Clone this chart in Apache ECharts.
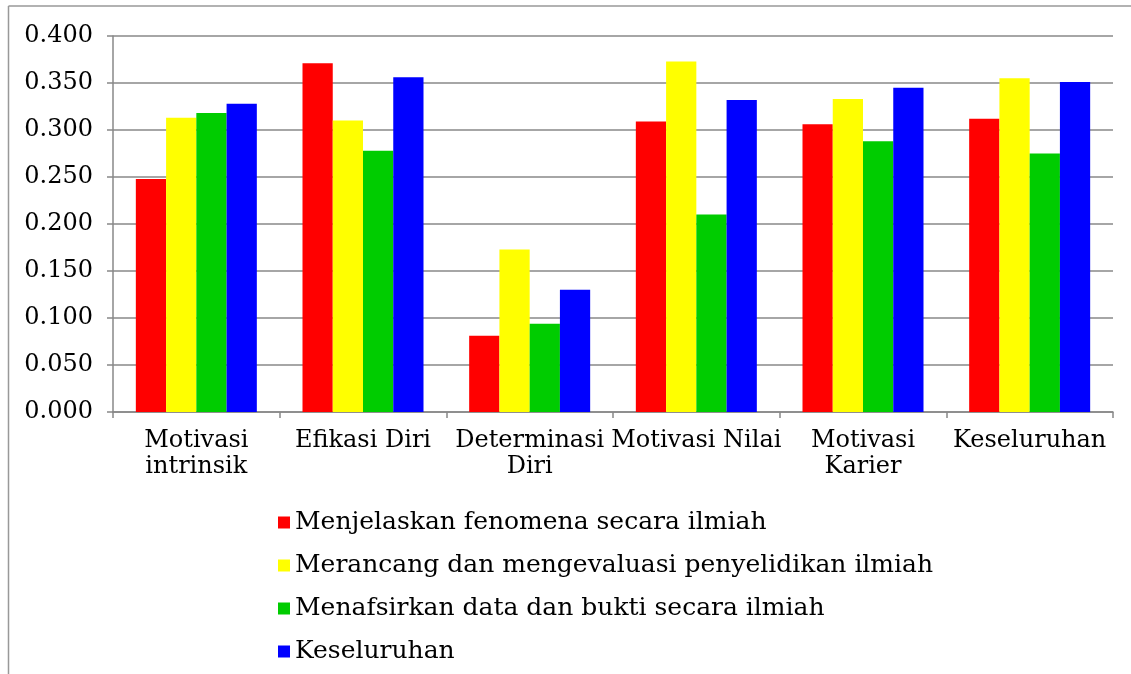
<!DOCTYPE html>
<html><head><meta charset="utf-8">
<script src="https://cdn.jsdelivr.net/npm/echarts@6/dist/echarts.min.js"></script>
<style>html,body{margin:0;padding:0;background:#fff}#c{width:1131px;height:674px}</style>
</head><body><div id="c"></div>
<script>
const categories = ['Motivasi\nintrinsik','Efikasi Diri','Determinasi\nDiri','Motivasi Nilai','Motivasi\nKarier','Keseluruhan'];
const seriesNames = ['Menjelaskan fenomena secara ilmiah','Merancang dan mengevaluasi penyelidikan ilmiah','Menafsirkan data dan bukti secara ilmiah','Keseluruhan'];
const menjelaskan = [0.248, 0.371, 0.081, 0.309, 0.306, 0.312];
const merancang = [0.313, 0.310, 0.173, 0.373, 0.333, 0.355];
const menafsirkan = [0.318, 0.278, 0.094, 0.210, 0.288, 0.275];
const keseluruhan = [0.328, 0.356, 0.130, 0.332, 0.345, 0.351];
const colors = ['#FF0000','#FFFF00','#00CC00','#0000FF'];
const FONT = 'DejaVu Serif';
const chart = echarts.init(document.getElementById('c'), null, {renderer:'canvas'});
const allData = [menjelaskan, merancang, menafsirkan, keseluruhan];
chart.setOption({
  animation:false,
  textStyle:{fontFamily:FONT},
  grid:{left:113,right:18,top:36,bottom:262},
  legend:{orient:'vertical',left:273,top:505,itemWidth:12,itemHeight:12,itemGap:18,icon:'rect',
    textStyle:{fontFamily:FONT,fontSize:25,lineHeight:25,color:'#000'}},
  xAxis:{type:'category',data:categories,
    axisLine:{lineStyle:{color:'#888',width:1.5}},
    axisTick:{show:true,length:6,lineStyle:{color:'#888',width:1.5},alignWithLabel:false},
    axisLabel:{interval:0,color:'#000',fontFamily:FONT,fontSize:24,margin:16,lineHeight:26}},
  yAxis:{type:'value',min:0,max:0.4,interval:0.05,
    axisLine:{show:true,lineStyle:{color:'#888',width:1.5}},
    axisTick:{show:true,length:6,lineStyle:{color:'#888',width:1.5}},
    splitLine:{lineStyle:{color:'#888',width:1.5}},
    axisLabel:{color:'#000',fontFamily:FONT,fontSize:24,margin:20,formatter:v=>v.toFixed(3)}},
  graphic:[
    {type:'line',shape:{x1:8.5,y1:6,x2:8.5,y2:674},style:{stroke:'#999',lineWidth:1.5}},
    {type:'line',shape:{x1:8.5,y1:6,x2:1131,y2:6},style:{stroke:'#999',lineWidth:1.5}}
  ],
  series: seriesNames.map((n,i)=>({name:n,type:'bar',data:allData[i],barGap:'0%',barCategoryGap:'27.4%',
    itemStyle:{color:colors[i]}}))
});
</script></body></html>
